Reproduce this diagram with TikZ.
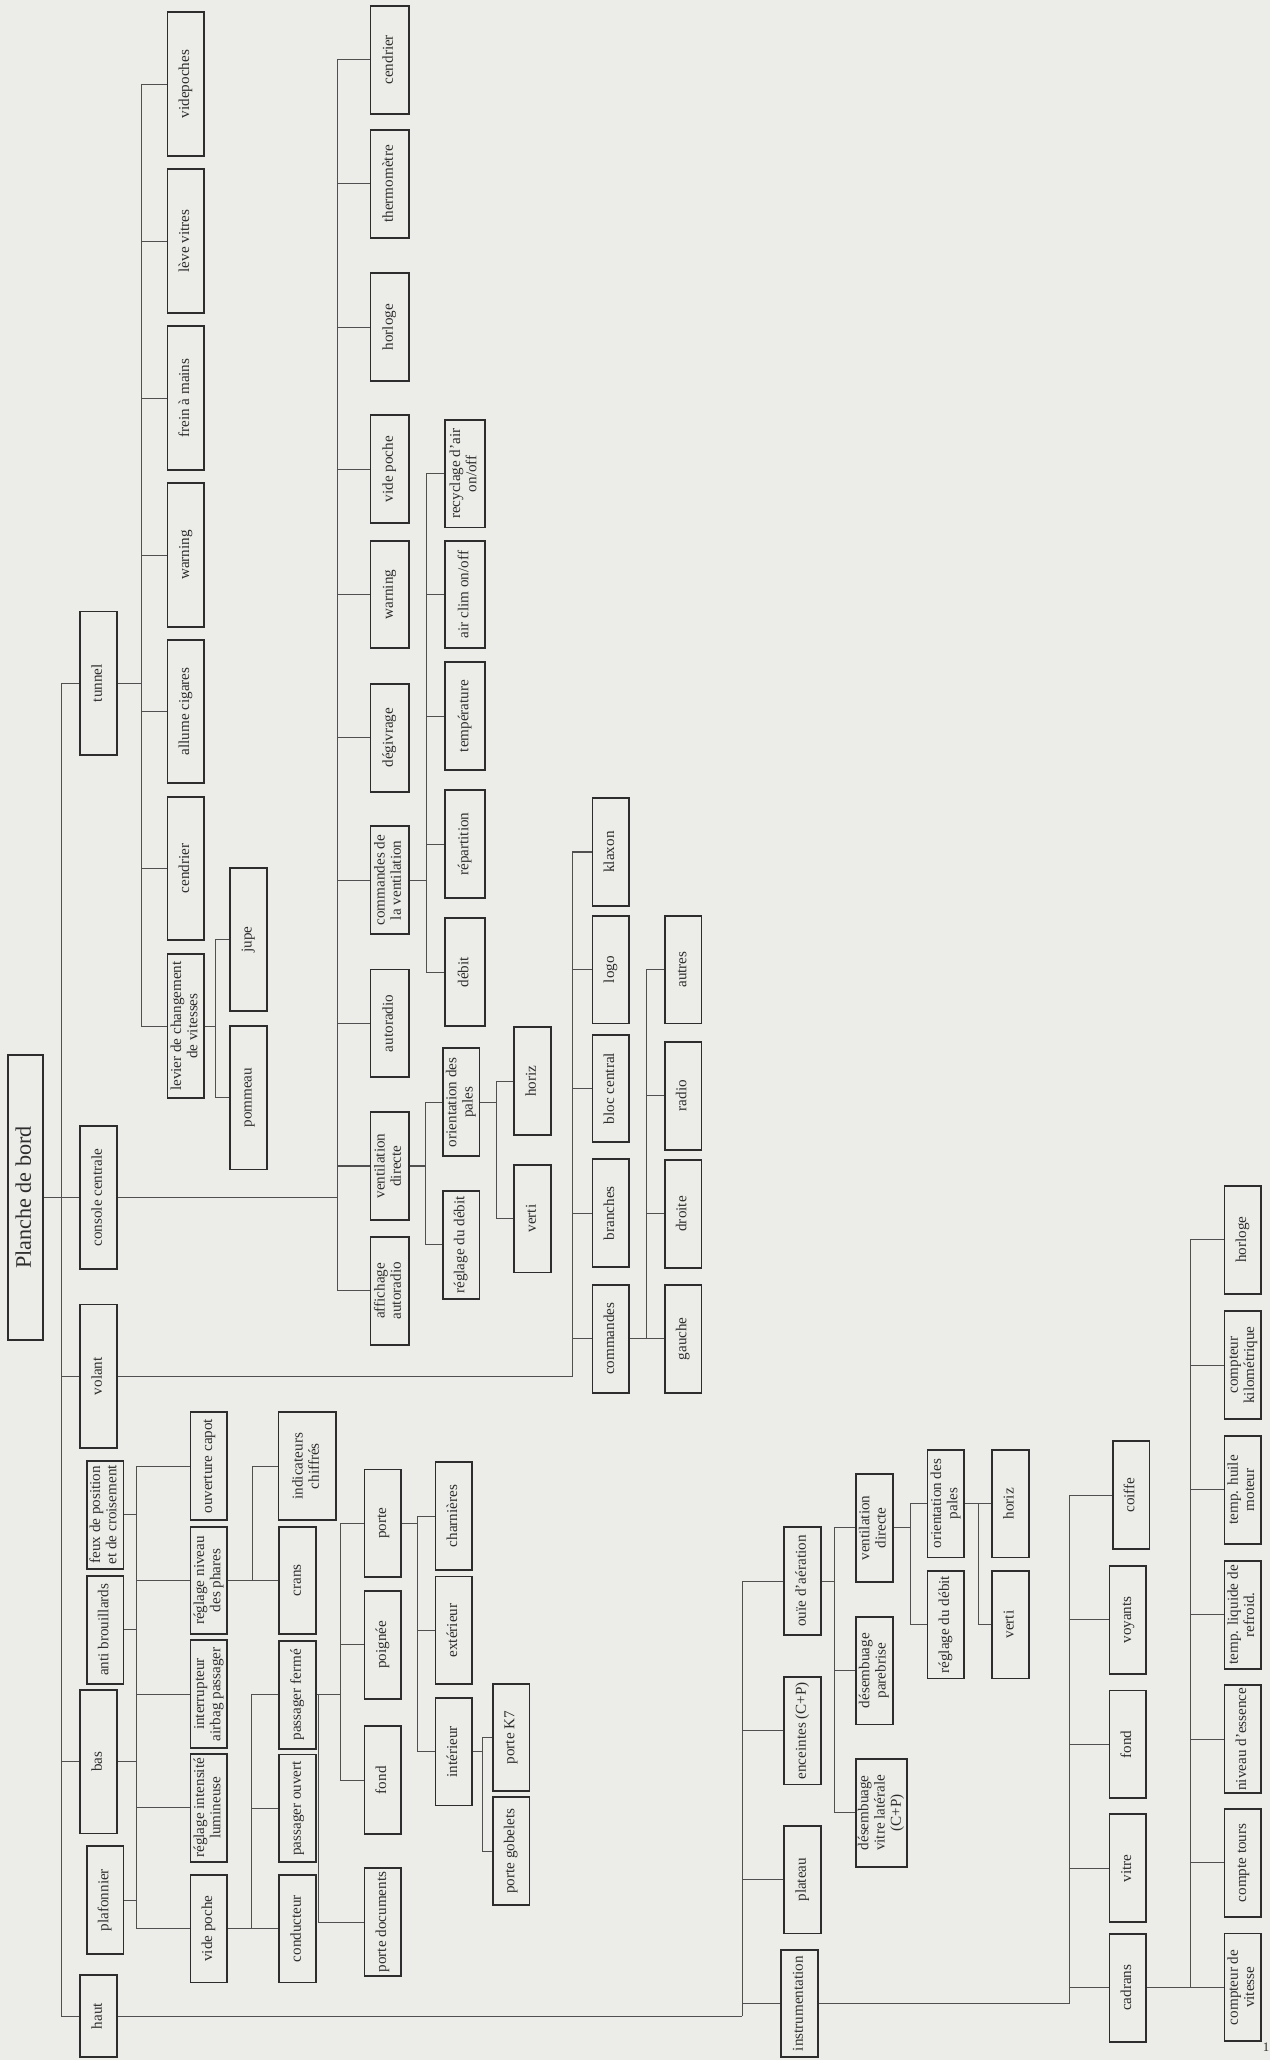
\documentclass[tikz,border=0pt]{standalone}
\usepackage{fontspec}
\setmainfont{Liberation Serif}
\usepackage{tikz}
\definecolor{paper}{RGB}{236,236,233}
\definecolor{ink}{RGB}{45,45,45}
\definecolor{wirecol}{RGB}{80,80,80}
\newcommand{\vt}[1]{\rotatebox{90}{\begin{tabular}{@{}c@{}}#1\end{tabular}}}

\begin{document}
\begin{tikzpicture}[
    x=0.025cm, y=-0.025cm,
    box/.style={draw=ink, line width=1pt, inner sep=0.5pt, text=ink,
                font=\fontsize{8.2}{8.8}\selectfont,
                minimum width=7mm, minimum height=20.5mm},
    tall/.style={minimum height=27.3mm},
    wire/.style={draw=wirecol, line width=0.55pt}
]
\useasboundingbox (0,0) rectangle (967,1568);
\fill[paper] (0,0) rectangle (967,1568);

\node[box, font=\fontsize{12}{14}\selectfont, minimum width=6.75mm, minimum height=54.25mm] (pdb) at (19.5,911.5) {\vt{Planche de bord}};

\node[box, tall] (tunnel) at (75,520) {\vt{tunnel}};
\node[box, tall] (console) at (75,911.5) {\vt{console centrale}};
\node[box, tall] (volant) at (75,1047.5) {\vt{volant}};
\node[box, tall] (bas) at (75,1341) {\vt{bas}};
\node[box, minimum height=15.75mm] (haut) at (75,1534.5) {\vt{haut}};

\node[box, tall] (videp) at (141.5,64) {\vt{videpoches}};
\node[box, tall] (levev) at (141.5,183.5) {\vt{lève vitres}};
\node[box, tall] (frein) at (141.5,303) {\vt{frein à mains}};
\node[box, tall] (warn) at (141.5,422.5) {\vt{warning}};
\node[box, tall] (allume) at (141.5,541.5) {\vt{allume cigares}};
\node[box, tall] (cendr) at (141.5,661) {\vt{cendrier}};
\node[box, tall] (levier) at (141.5,781) {\vt{levier de changement\\de vitesses}};
\node[box, tall] (jupe) at (189,715) {\vt{jupe}};
\node[box, tall] (pommeau) at (189,835.5) {\vt{pommeau}};

\node[box, minimum width=7.25mm] (ccendr) at (296.5,45.5) {\vt{cendrier}};
\node[box, minimum width=7.25mm] (thermo) at (296.5,140) {\vt{thermomètre}};
\node[box, minimum width=7.25mm] (chorl) at (296.5,249) {\vt{horloge}};
\node[box, minimum width=7.25mm] (cvpoche) at (296.5,357) {\vt{vide poche}};
\node[box, minimum width=7.25mm] (cwarn) at (296.5,452.5) {\vt{warning}};
\node[box, minimum width=7.25mm] (degiv) at (296.5,561.5) {\vt{dégivrage}};
\node[box, minimum width=7.25mm] (cmdvent) at (296.5,670) {\vt{commandes de\\la ventilation}};
\node[box, minimum width=7.25mm] (autoradio) at (296.5,779) {\vt{autoradio}};
\node[box, minimum width=7.25mm] (ventdir) at (296.5,887.5) {\vt{ventilation\\directe}};
\node[box, minimum width=7.25mm] (affich) at (296.5,982.5) {\vt{affichage\\autoradio}};

\node[box, minimum width=7.6mm] (recycl) at (354,360.5) {\vt{recyclage d'air\\on/off}};
\node[box, minimum width=7.6mm] (airclim) at (354,452.5) {\vt{air clim on/off}};
\node[box, minimum width=7.6mm] (temper) at (354,545) {\vt{température}};
\node[box, minimum width=7.6mm] (repart) at (354,642.5) {\vt{répartition}};
\node[box, minimum width=7.6mm] (debit) at (354,740) {\vt{débit}};

\node[box] (orient) at (351,839) {\vt{orientation des\\pales}};
\node[box] (regdeb) at (351,947.5) {\vt{réglage du débit}};
\node[box] (horiz) at (405.5,823) {\vt{horiz}};
\node[box] (verti) at (405.5,927.5) {\vt{verti}};

\node[box] (klaxon) at (465,648.5) {\vt{klaxon}};
\node[box] (logo) at (465,738) {\vt{logo}};
\node[box] (bloc) at (465,828.5) {\vt{bloc central}};
\node[box] (branches) at (465,923.5) {\vt{branches}};
\node[box] (commandes) at (465,1019) {\vt{commandes}};
\node[box] (autres) at (520,738) {\vt{autres}};
\node[box] (radio) at (520,834) {\vt{radio}};
\node[box] (droite) at (520,924) {\vt{droite}};
\node[box] (gauche) at (520,1019) {\vt{gauche}};

\node[box] (feux) at (80,1153) {\vt{feux de position\\et de croisement}};
\node[box] (antib) at (80,1240.5) {\vt{anti brouillards}};
\node[box] (plafon) at (80,1446.3) {\vt{plafonnier}};
\node[box] (capot) at (159,1116) {\vt{ouverture capot}};
\node[box] (regphar) at (159,1203) {\vt{réglage niveau\\des phares}};
\node[box] (airbag) at (159,1289.5) {\vt{interrupteur\\airbag passager}};
\node[box] (regint) at (159,1376) {\vt{réglage intensité\\lumineuse}};
\node[box] (vpoche) at (159,1468) {\vt{vide poche}};

\node[box, minimum width=11mm] (indic) at (234,1116) {\vt{indicateurs\\chiffrés}};
\node[box] (crans) at (226.5,1203) {\vt{crans}};
\node[box] (pferme) at (226.5,1290) {\vt{passager fermé}};
\node[box] (pouvert) at (226.5,1376.5) {\vt{passager ouvert}};
\node[box] (conduc) at (226.5,1468) {\vt{conducteur}};

\node[box] (porte) at (291.5,1159.5) {\vt{porte}};
\node[box] (poignee) at (291.5,1252) {\vt{poignée}};
\node[box] (fond) at (291.5,1355) {\vt{fond}};
\node[box] (portedoc) at (291.5,1463) {\vt{porte documents}};
\node[box] (charn) at (345.5,1154) {\vt{charnières}};
\node[box] (exter) at (345.5,1241) {\vt{extérieur}};
\node[box] (inter) at (345.5,1333.3) {\vt{intérieur}};
\node[box] (portek) at (389,1322.5) {\vt{porte K7}};
\node[box] (gobel) at (389,1409) {\vt{porte gobelets}};

\node[box] (ouie) at (611,1203.4) {\vt{ouïe d'aération}};
\node[box] (encein) at (611,1317.3) {\vt{enceintes (C+P)}};
\node[box] (plateau) at (611,1430.7) {\vt{plateau}};
\node[box] (instru) at (608.6,1525) {\vt{instrumentation}};

\node[box] (ventdirb) at (665.4,1163) {\vt{ventilation\\directe}};
\node[box] (desparb) at (665.4,1271.6) {\vt{désembuage\\parebrise}};
\node[box, minimum width=9.6mm] (deslat) at (670.8,1379.8) {\vt{désembuage\\vitre latérale\\(C+P)}};
\node[box] (orientb) at (720,1144.5) {\vt{orientation des\\pales}};
\node[box] (regdebb) at (720,1236.6) {\vt{réglage du débit}};
\node[box] (horizb) at (769,1144.5) {\vt{horiz}};
\node[box] (vertib) at (769,1236.6) {\vt{verti}};

\node[box] (coiffe) at (861,1138) {\vt{coiffe}};
\node[box] (voyants) at (858.5,1233) {\vt{voyants}};
\node[box] (ifond) at (858.5,1327.7) {\vt{fond}};
\node[box] (vitre) at (858.5,1422) {\vt{vitre}};
\node[box] (cadrans) at (858.5,1513) {\vt{cadrans}};

\node[box] (horlb) at (946,943.6) {\vt{horloge}};
\node[box] (compkm) at (946,1039) {\vt{compteur\\kilométrique}};
\node[box] (thuile) at (946,1134) {\vt{temp. huile\\moteur}};
\node[box] (tliq) at (946,1229.2) {\vt{temp. liquide de\\refroid.}};
\node[box] (essence) at (946,1323.8) {\vt{niveau d'essence}};
\node[box] (ctours) at (946,1418) {\vt{compte tours}};
\node[box] (cvit) at (946,1512.7) {\vt{compteur de\\vitesse}};

\node[text=ink, font=\fontsize{7}{8}\selectfont, anchor=west, inner sep=0pt] (pnum) at (961,1558) {1};

\coordinate (trunk) at (47,911.5);
\coordinate (tbus) at (108,520);
\coordinate (lbus) at (164,781);
\coordinate (cbus) at (257,911.5);
\coordinate (cvbus) at (325,670);
\coordinate (vdbus) at (324,887.5);
\coordinate (obus) at (378,839);
\coordinate (vbus) at (436,1047.5);
\coordinate (cmbus) at (492,1019);
\coordinate (bbus) at (104,1341);
\coordinate (rpbus) at (192,1203);
\coordinate (vpbus) at (191.5,1468);
\coordinate (pfbus) at (259,1290);
\coordinate (pdbus) at (242.7,1290);
\coordinate (pobus) at (318,1159.5);
\coordinate (ibus) at (367,1333.3);
\coordinate (hbus) at (565,1534.5);
\coordinate (oubus) at (635.5,1203.4);
\coordinate (vbbus) at (693,1163);
\coordinate (obbus) at (745,1144.5);
\coordinate (inbus) at (813.7,1525);
\coordinate (cabus) at (906.5,1513);

\draw[wire] (pdb.east) -- (console.west);
\draw[wire] (tunnel.west) -| (trunk);
\draw[wire] (volant.west) -| (trunk);
\draw[wire] (bas.west) -| (trunk);
\draw[wire] (haut.west) -| (trunk);

\draw[wire] (tunnel.east) -- (tbus);
\draw[wire] (videp.west) -| (tbus);
\draw[wire] (levev.west) -| (tbus);
\draw[wire] (frein.west) -| (tbus);
\draw[wire] (warn.west) -| (tbus);
\draw[wire] (allume.west) -| (tbus);
\draw[wire] (cendr.west) -| (tbus);
\draw[wire] (levier.west) -| (tbus);
\draw[wire] (levier.east) -- (lbus);
\draw[wire] (jupe.west) -| (lbus);
\draw[wire] (pommeau.west) -| (lbus);

\draw[wire] (console.east) -- (cbus);
\draw[wire] (ccendr.west) -| (cbus);
\draw[wire] (thermo.west) -| (cbus);
\draw[wire] (chorl.west) -| (cbus);
\draw[wire] (cvpoche.west) -| (cbus);
\draw[wire] (cwarn.west) -| (cbus);
\draw[wire] (degiv.west) -| (cbus);
\draw[wire] (cmdvent.west) -| (cbus);
\draw[wire] (autoradio.west) -| (cbus);
\draw[wire] (ventdir.west) -| (cbus);
\draw[wire] (affich.west) -| (cbus);
\draw[wire] (cmdvent.east) -- (cvbus);
\draw[wire] (recycl.west) -| (cvbus);
\draw[wire] (airclim.west) -| (cvbus);
\draw[wire] (temper.west) -| (cvbus);
\draw[wire] (repart.west) -| (cvbus);
\draw[wire] (debit.west) -| (cvbus);
\draw[wire] (ventdir.east) -- (vdbus);
\draw[wire] (orient.west) -| (vdbus);
\draw[wire] (regdeb.west) -| (vdbus);
\draw[wire] (orient.east) -- (obus);
\draw[wire] (horiz.west) -| (obus);
\draw[wire] (verti.west) -| (obus);

\draw[wire] (volant.east) -- (vbus);
\draw[wire] (klaxon.west) -| (vbus);
\draw[wire] (logo.west) -| (vbus);
\draw[wire] (bloc.west) -| (vbus);
\draw[wire] (branches.west) -| (vbus);
\draw[wire] (commandes.west) -| (vbus);
\draw[wire] (commandes.east) -- (cmbus);
\draw[wire] (autres.west) -| (cmbus);
\draw[wire] (radio.west) -| (cmbus);
\draw[wire] (droite.west) -| (cmbus);
\draw[wire] (gauche.west) -| (cmbus);

\draw[wire] (bas.east) -- (bbus);
\draw[wire] (feux.east) -| (bbus);
\draw[wire] (antib.east) -| (bbus);
\draw[wire] (plafon.east) -| (bbus);
\draw[wire] (capot.west) -| (bbus);
\draw[wire] (regphar.west) -| (bbus);
\draw[wire] (airbag.west) -| (bbus);
\draw[wire] (regint.west) -| (bbus);
\draw[wire] (vpoche.west) -| (bbus);
\draw[wire] (regphar.east) -- (rpbus);
\draw[wire] (crans.west) -| (rpbus);
\draw[wire] (indic.west) -| (rpbus);
\draw[wire] (vpoche.east) -- (vpbus);
\draw[wire] (conduc.west) -| (vpbus);
\draw[wire] (pouvert.west) -| (vpbus);
\draw[wire] (pferme.west) -| (vpbus);
\draw[wire] (pferme.east) -- (pfbus);
\draw[wire] (porte.west) -| (pfbus);
\draw[wire] (poignee.west) -| (pfbus);
\draw[wire] (fond.west) -| (pfbus);
\draw[wire] (portedoc.west) -| (pdbus);
\draw[wire] (porte.east) -- (pobus);
\draw[wire] (charn.west) -| (pobus);
\draw[wire] (exter.west) -| (pobus);
\draw[wire] (inter.west) -| (pobus);
\draw[wire] (inter.east) -- (ibus);
\draw[wire] (portek.west) -| (ibus);
\draw[wire] (gobel.west) -| (ibus);

\draw[wire] (haut.east) -- (hbus);
\draw[wire] (ouie.west) -| (hbus);
\draw[wire] (encein.west) -| (hbus);
\draw[wire] (plateau.west) -| (hbus);
\draw[wire] (instru.west) -| (hbus);
\draw[wire] (ouie.east) -- (oubus);
\draw[wire] (ventdirb.west) -| (oubus);
\draw[wire] (desparb.west) -| (oubus);
\draw[wire] (deslat.west) -| (oubus);
\draw[wire] (ventdirb.east) -- (vbbus);
\draw[wire] (orientb.west) -| (vbbus);
\draw[wire] (regdebb.west) -| (vbbus);
\draw[wire] (orientb.east) -- (obbus);
\draw[wire] (horizb.west) -| (obbus);
\draw[wire] (vertib.west) -| (obbus);

\draw[wire] (instru.east) -- (inbus);
\draw[wire] (coiffe.west) -| (inbus);
\draw[wire] (voyants.west) -| (inbus);
\draw[wire] (ifond.west) -| (inbus);
\draw[wire] (vitre.west) -| (inbus);
\draw[wire] (cadrans.west) -| (inbus);
\draw[wire] (cadrans.east) -- (cabus);
\draw[wire] (horlb.west) -| (cabus);
\draw[wire] (compkm.west) -| (cabus);
\draw[wire] (thuile.west) -| (cabus);
\draw[wire] (tliq.west) -| (cabus);
\draw[wire] (essence.west) -| (cabus);
\draw[wire] (ctours.west) -| (cabus);
\draw[wire] (cvit.west) -| (cabus);
\end{tikzpicture}
\end{document}
